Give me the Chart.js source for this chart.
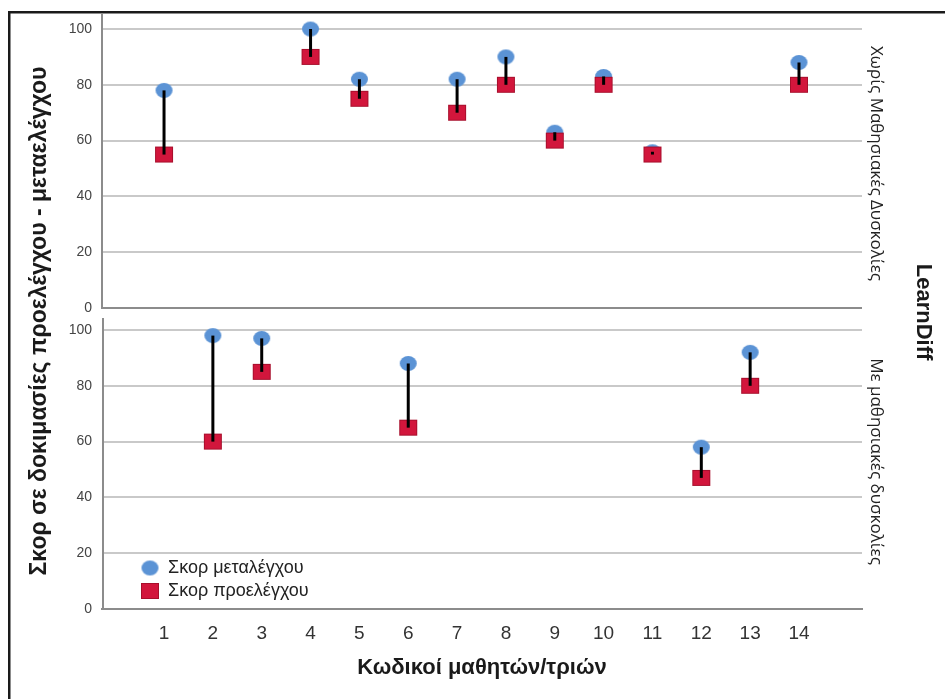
<!DOCTYPE html>
<html><head><meta charset="utf-8">
<script src="https://cdn.jsdelivr.net/npm/chart.js@4.4.1/dist/chart.umd.min.js"></script>
<style>html,body{margin:0;padding:0;background:#fff;overflow:hidden}#wrap{width:945px;height:699px;position:relative}</style>
</head><body><div id="wrap"><canvas id="c" width="945" height="699"></canvas></div>
<script>
// ---- data ----
const students = [1,2,3,4,5,6,7,8,9,10,11,12,13,14];
const seriesNames = ['Σκορ μεταλέγχου', 'Σκορ προελέγχου'];
const groupNames = ['Χωρίς Μαθησιακές Δυσκολίες', 'Με μαθησιακές δυσκολίες'];
const panelVarName = 'LearnDiff';
const yTitle = 'Σκορ σε δοκιμασίες προελέγχου - μεταελέγχου';
const xTitle = 'Κωδικοί μαθητών/τριών';
const yTickValues = [0,20,40,60,80,100];

const noLDIds  = [1,4,5,7,8,9,10,11,14];
const noLDPost = [78,100,82,82,90,63,83,56,88];
const noLDPre  = [55,90,75,70,80,60,80,55,80];
const ldIds  = [2,3,6,12,13];
const ldPost = [98,97,88,58,92];
const ldPre  = [60,85,65,47,80];

// ---- styling ----
const FONT = "'Liberation Sans', Arial, sans-serif";
const FONT2 = "'Open Sans', 'Liberation Sans', sans-serif";
Chart.defaults.font.family = FONT;
const BLUE = '#5b93d5', RED = '#d2163c', RED_EDGE = '#a80f2c';

function marker(kind, w, h, fill, stroke) {
  const c = document.createElement('canvas');
  c.width = w + 2; c.height = h + 2;
  const g = c.getContext('2d');
  g.fillStyle = fill;
  if (kind === 'circle') {
    g.beginPath(); g.ellipse((w + 2) / 2, (h + 2) / 2, w / 2, h / 2, 0, 0, Math.PI * 2); g.fill();
  } else {
    g.fillRect(1, 1, w, h);
    g.strokeStyle = stroke; g.lineWidth = 1; g.strokeRect(1.5, 1.5, w - 1, h - 1);
  }
  return c;
}
const circ = marker('circle', 17, 15, BLUE);
const sq = marker('rect', 18, 16, RED, RED_EDGE);

const pts = (ids, vals) => ids.map((x, i) => ({x, y: vals[i]}));
const rng = (ids, a, b) => ids.map((x, i) => ({x, y: [a[i], b[i]]}));

const gridColor = c => (c.tick && c.tick.value === 0) ? '#8c8c8c' : '#c9c9c9';

function yAxis(weight, stackWeight, max) {
  return {
    type: 'linear', position: 'left', stack: 'panels', stackWeight, weight,
    min: 0, max,
    afterFit(s) { s.width = 102; },
    afterBuildTicks(s) { s.ticks = yTickValues.map(v => ({value: v})); },
    ticks: {font: {size: 14}, color: '#444', padding: 2, includeBounds: false},
    grid: {color: gridColor, lineWidth: 2, drawTicks: true, tickLength: 8, tickColor: 'rgba(0,0,0,0)'},
    border: {display: weight === 1, color: '#8c8c8c', width: 2}
  };
}

const decor = {
  id: 'decor',
  beforeDraw(chart) {
    const {ctx, width, height} = chart;
    ctx.save();
    ctx.fillStyle = '#fff'; ctx.fillRect(0, 0, width, height);
    ctx.fillStyle = '#1a1a1a';
    ctx.fillRect(8, 11, width - 8, 2.5);
    ctx.fillRect(8, 11, 2.5, height - 11);
    ctx.restore();
  },
  beforeDatasetsDraw(chart) {
    const {ctx, chartArea: a} = chart;
    const yB = chart.scales.yBot;
    ctx.save();
    ctx.strokeStyle = '#8c8c8c'; ctx.lineWidth = 2;
    ctx.beginPath(); ctx.moveTo(a.left + 1, yB.top + 10); ctx.lineTo(a.left + 1, yB.bottom); ctx.stroke();
    ctx.restore();
  },
  afterLayout(chart) {
    const lg = chart.legend, a = chart.chartArea;
    if (!lg) return;
    lg.left = a.left + 34; lg.right = a.right;
    lg.top = a.top; lg.bottom = a.bottom - 4;
  },
  afterDraw(chart) {
    const {ctx, chartArea: a} = chart;
    const yT = chart.scales.yTop, yB = chart.scales.yBot;
    ctx.save();
    ctx.fillStyle = '#1a1a1a';
    ctx.textAlign = 'center'; ctx.textBaseline = 'middle';
    // y title
    ctx.save(); ctx.translate(40, 321); ctx.rotate(-Math.PI / 2);
    ctx.font = 'bold 23px ' + FONT; ctx.fillText(yTitle, 0, 0); ctx.restore();
    // x title
    ctx.font = 'bold 22px ' + FONT;
    ctx.fillText(xTitle, (a.left + a.right) / 2, 668);
    // group labels
    ctx.fillStyle = '#222';
    ctx.font = '17px ' + FONT2;
    [[groupNames[0], yT.getPixelForValue(50) - 5], [groupNames[1], yB.getPixelForValue(50) - 8]].forEach(([t, cy]) => {
      ctx.save(); ctx.translate(a.right + 14, cy); ctx.rotate(Math.PI / 2); ctx.fillText(t, 0, 0); ctx.restore();
    });
    ctx.fillStyle = '#1a1a1a';
    ctx.save(); ctx.translate(923, 312); ctx.rotate(Math.PI / 2);
    ctx.font = 'bold 22px ' + FONT; ctx.fillText(panelVarName, 0, 0); ctx.restore();
    ctx.restore();
  }
};

new Chart(document.getElementById('c'), {
  type: 'scatter',
  data: {
    datasets: [
      {type: 'scatter', label: seriesNames[0], data: pts(noLDIds, noLDPost), yAxisID: 'yTop', pointStyle: circ, order: 2},
      {type: 'scatter', label: seriesNames[1], data: pts(noLDIds, noLDPre), yAxisID: 'yTop', pointStyle: sq, order: 1},
      {type: 'scatter', label: seriesNames[0], data: pts(ldIds, ldPost), yAxisID: 'yBot', pointStyle: circ, order: 2},
      {type: 'scatter', label: seriesNames[1], data: pts(ldIds, ldPre), yAxisID: 'yBot', pointStyle: sq, order: 1},
      {type: 'bar', label: 'range', data: rng(noLDIds, noLDPre, noLDPost), yAxisID: 'yTop', backgroundColor: '#000', grouped: false, maxBarThickness: 3, order: 0},
      {type: 'bar', label: 'range', data: rng(ldIds, ldPre, ldPost), yAxisID: 'yBot', backgroundColor: '#000', grouped: false, maxBarThickness: 3, order: 0}
    ]
  },
  options: {
    responsive: false, animation: false, events: [],
    layout: {padding: {left: 0, top: 14, right: 83, bottom: 0}},
    scales: {
      x: {
        type: 'linear', min: -0.27, max: 15.29, offset: false,
        afterFit(s) { s.height = 90; },
        afterBuildTicks(s) { s.ticks = students.map(v => ({value: v})); },
        ticks: {font: {size: 19}, color: '#333', padding: 5, autoSkip: false, maxRotation: 0, includeBounds: false},
        grid: {display: false, offset: false},
        border: {display: true, color: '#8c8c8c', width: 2}
      },
      yBot: yAxis(0, 301, 107.89),
      yTop: yAxis(1, 294, 105.38)
    },
    plugins: {
      tooltip: {enabled: false},
      legend: {
        position: 'chartArea', align: 'end',
        labels: {usePointStyle: true, padding: 5, font: {size: 18}, color: '#222',
                 filter: item => item.datasetIndex < 2,
                 sort: (p, q) => p.datasetIndex - q.datasetIndex}
      }
    }
  },
  plugins: [decor]
});
</script>
</body></html>
